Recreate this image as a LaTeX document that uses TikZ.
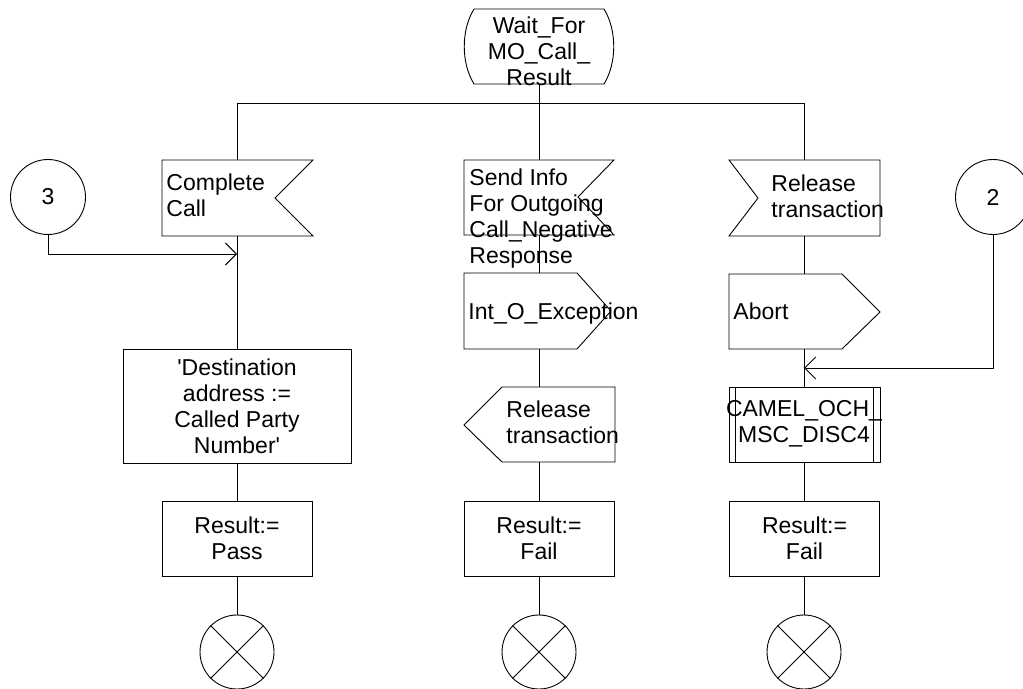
\documentclass[tikz,border=0pt]{standalone}
\usepackage{fontspec}
\setmainfont{Liberation Sans}
\usetikzlibrary{arrows.meta}
\begin{document}
\begin{tikzpicture}[x=1bp,y=-1bp, line width=0.9bp,
  txt/.style={inner sep=0pt, font=\fontsize{23bp}{26bp}\selectfont},
  ltxt/.style={txt, align=left, anchor=north west},
  ctxt/.style={txt, align=center, anchor=north},
  taskbox/.style={draw, txt, align=center, minimum width=150bp, minimum height=75bp},
  termnode/.style={draw, circle, minimum size=74bp, inner sep=0pt},
  connnode/.style={draw, circle, minimum size=75bp, inner sep=0pt, txt},
  arr/.style={-{Straight Barb[length=11bp,width=22bp]}}]
\useasboundingbox (0,0) rectangle (1023,689);
\clip (0,0) rectangle (1023,689);

% state
\draw (474,9) -- (604,9) .. controls (617,30) and (617,63) .. (604,84)
  -- (474,84) .. controls (461,63) and (461,30) .. (474,9);
\node[ctxt] (st) at (539,16) {Wait\_For\\MO\_Call\_\\Result};
\coordinate (stb) at (539,84);
\coordinate (busM) at (539,103);
\coordinate (busL) at (237,103);
\coordinate (busR) at (804,103);

% inputs
\draw (162,160) -- (313,160) -- (275,198) -- (313,236) -- (162,236) -- cycle;
\coordinate (cct) at (237,160); \coordinate (ccb) at (237,236);
\node[ltxt] (cc) at (166,173) {Complete\\Call};

\draw (464,160) -- (614,160) -- (578,197) -- (614,235) -- (464,235) -- cycle;
\coordinate (sit) at (539,160); \coordinate (sib) at (539,235);
\node[ltxt] (si) at (469,168) {Send Info\\For Outgoing\\Call\_Negative\\Response};

\draw (729,160) -- (880,160) -- (880,236) -- (729,236) -- (758,198) -- cycle;
\coordinate (rat) at (804,160); \coordinate (rab) at (804,236);
\node[ltxt] (ra) at (771,174) {Release\\transaction};

% outputs
\draw (464,273) -- (577,273) -- (611,311) -- (577,349) -- (464,349) -- cycle;
\coordinate (iot) at (539,273); \coordinate (iob) at (539,349);
\node[ltxt] (io) at (468,302) {Int\_O\_Exception};

\draw (502,387) -- (615,387) -- (615,462) -- (502,462) -- (464,425) -- cycle;
\coordinate (rmt) at (539,387); \coordinate (rmb) at (539,462);
\node[ltxt] (rm) at (506,400) {Release\\transaction};

\draw (729,274) -- (842,274) -- (880,312) -- (842,349) -- (729,349) -- cycle;
\coordinate (abt) at (804,274); \coordinate (abb) at (804,349);
\node[ltxt] (ab) at (733,302) {Abort};

% tasks
\node[taskbox, minimum width=228bp, minimum height=114bp] (dest) at (237,406)
  {\textquotesingle Destination\\address :=\\Called Party\\Number\textquotesingle};
\node[taskbox] (r1) at (237,538.5) {Result:=\\Pass};
\node[taskbox] (r2) at (539,538.5) {Result:=\\Fail};
\node[taskbox] (r3) at (804.5,538.5) {Result:=\\Fail};

% procedure call
\node[draw, minimum width=151bp, minimum height=75bp, inner sep=0pt] (cam) at (804.5,424.5) {};
\draw ([xshift=7bp]cam.north west) -- ([xshift=7bp]cam.south west);
\draw ([xshift=-7bp]cam.north east) -- ([xshift=-7bp]cam.south east);
\node[ctxt] (camt) at (804,400) {CAMEL\_OCH\_\\MSC\_DISC4};

% terminators
\foreach \n/\x in {t1/237, t2/539, t3/804} {
  \node[termnode] (\n) at (\x,652) {};
  \draw (\n.north east) -- (\n.south west);
  \draw (\n.north west) -- (\n.south east);
}

% connectors
\node[connnode] (c3) at (48,197) {3};
\node[connnode] (c2) at (993,197) {2};
\coordinate (c3k) at (48,254); \coordinate (c3e) at (237,254);
\coordinate (c2k) at (993,368); \coordinate (c2e) at (804,368);

% flow lines
\draw (stb) -- (busM);
\draw (busL) -- (busR);
\draw (busL) -- (cct);
\draw (busM) -- (sit);
\draw (busR) -- (rat);
\draw (ccb) -- (dest.north);
\draw (dest.south) -- (r1.north);
\draw (r1.south) -- (t1.north);
\draw (sib) -- (iot);
\draw (iob) -- (rmt);
\draw (rmb) -- (r2.north);
\draw (r2.south) -- (t2.north);
\draw (rab) -- (abt);
\draw (abb) -- (cam.north -| abb);
\draw (cam.south -| abb) -- (r3.north -| abb);
\draw (r3.south -| abb) -- (t3.north);
\draw[arr] (c3.south) -- (c3k) -- (c3e);
\draw[arr] (c2.south) -- (c2k) -- (c2e);
\end{tikzpicture}
\end{document}
